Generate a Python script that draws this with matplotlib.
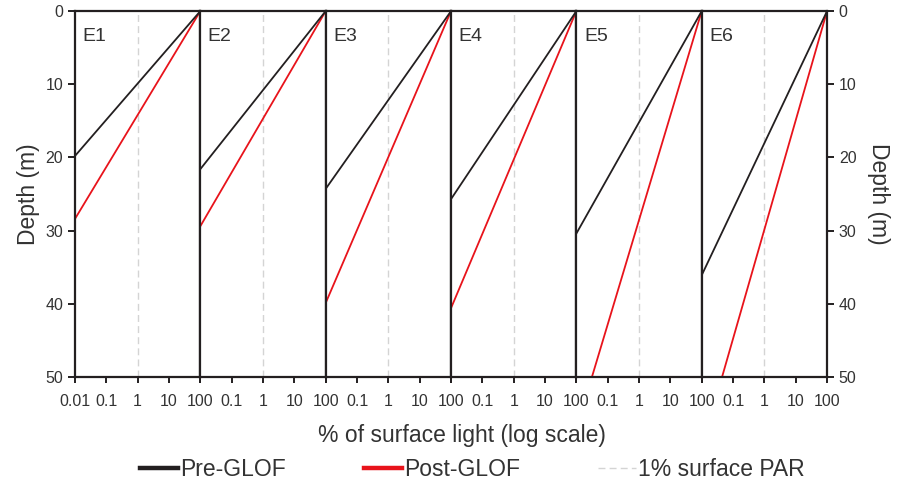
import matplotlib
matplotlib.use("Agg")
import matplotlib.pyplot as plt
from matplotlib.lines import Line2D

plt.rcParams['font.family'] = ['Liberation Sans', 'DejaVu Sans']

# sites and depth (m) where the light profile reaches 0.01 % of surface light
sites = ['E1', 'E2', 'E3', 'E4', 'E5', 'E6']
pre_depth = [19.8, 21.6, 24.3, 25.7, 30.4, 36.1]
post_depth = [28.4, 29.4, 39.9, 40.6, 57.1, 59.7]
light = [100, 0.01]          # % of surface light at top and bottom of each profile
par_level = 1                # 1% surface PAR
xticks = [0.01, 0.1, 1, 10, 100]
xticklabels = ['0.01', '0.1', '1', '10', '100']
yticks = [0, 10, 20, 30, 40, 50]

dark = '#231f20'
red = '#e8131b'
grey = '#d4d4d4'
txt = '#333333'

fig = plt.figure(figsize=(8.98, 4.82), dpi=100)
axes = fig.subplots(1, 6, gridspec_kw={'wspace': 0})
fig.subplots_adjust(left=0.0835, right=0.921, bottom=0.218, top=0.977)

for i, ax in enumerate(axes):
    ax.axvline(par_level, color=grey, lw=1, ls=(0, (5, 3)), zorder=1)
    ax.plot(light, [0, pre_depth[i]], color=dark, lw=1.3, zorder=3)
    ax.plot(light, [0, post_depth[i]], color=red, lw=1.3, zorder=2)
    ax.set_xscale('log')
    ax.set_xlim(0.01, 100)
    ax.set_ylim(50, 0)
    ax.minorticks_off()
    ax.set_xticks(xticks)
    if i == 0:
        ax.set_xticklabels(xticklabels)
    else:
        ax.set_xticklabels([''] + xticklabels[1:])
    ax.set_yticks(yticks)
    for sp in ax.spines.values():
        sp.set_color(dark)
        sp.set_linewidth(1.6)
    ax.tick_params(axis='x', direction='out', length=4, width=1.4, color=dark,
                   labelsize=11.5, pad=8, labelcolor=txt)
    ax.tick_params(axis='y', direction='out', length=5, width=1.4, color=dark,
                   labelsize=11.5, labelcolor=txt)
    if i == 0:
        ax.set_ylabel('Depth (m)', fontsize=16.5, color=txt, labelpad=4)
    elif i == 5:
        ax.yaxis.tick_right()
        ax.yaxis.set_label_position('right')
        ax.set_ylabel('Depth (m)', fontsize=16.5, color=txt,
                      rotation=270, labelpad=24)
    else:
        ax.tick_params(axis='y', left=False, labelleft=False)
    ax.text(0.06, 0.955, sites[i], transform=ax.transAxes, fontsize=14,
            color=txt, va='top', ha='left')

fig.text(0.514, 0.097, '% of surface light (log scale)', fontsize=16.5,
         color=txt, ha='center', va='center')

handles = [Line2D([], [], color=dark, lw=3.2),
           Line2D([], [], color=red, lw=3.2),
           Line2D([], [], color=grey, lw=1, ls=(0, (5, 3)))]
fig.legend(handles, ['Pre-GLOF', 'Post-GLOF', '1% surface PAR'], ncol=3,
           loc='center', bbox_to_anchor=(0.526, 0.025), frameon=False,
           fontsize=16.5, handlelength=1.65, handletextpad=0.1,
           columnspacing=3.4, labelcolor=txt)

fig.savefig('out.png', dpi=100)
